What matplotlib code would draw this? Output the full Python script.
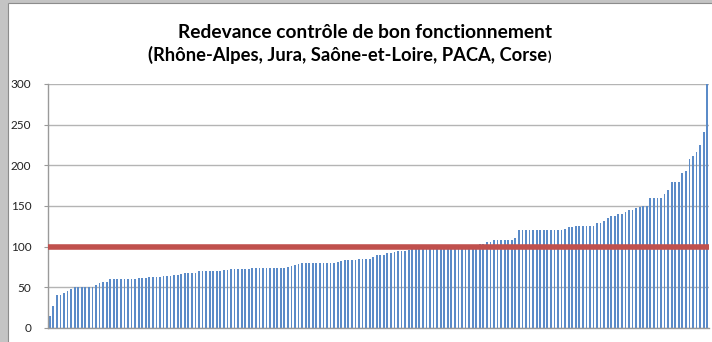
import matplotlib
matplotlib.use("Agg")
import matplotlib.pyplot as plt
from matplotlib.patches import Rectangle
import numpy as np

# Fees per service, sorted ascending (EUR)
fees = [
    15, 27, 40, 40, 43, 45, 48, 50, 50, 50, 50, 50, 50, 53, 55, 56, 56,
    60, 60, 60, 60, 60, 60, 60, 60, 61,
    61, 61, 62, 62, 62, 62, 64, 64, 64, 65, 65, 66, 67, 68, 68, 68,
    70, 70, 70, 70, 70, 70, 70, 71, 71, 72, 72, 72,
    72, 72, 72, 73, 74, 74, 74, 74, 74, 74, 74, 74, 74, 75, 76, 77, 78,
    80, 80, 80, 80, 80, 80, 80, 80, 80, 80,
    81, 82, 83, 83, 83, 84, 85, 85, 85, 85, 87, 90, 90, 90, 92, 92, 93,
    94, 94, 95, 96, 97, 98, 98, 99, 99, 100,
    100, 100, 100, 100, 100, 100, 100, 100, 100, 100, 100, 100, 100,
    103, 103, 105, 106, 108, 108, 108, 108, 108, 108, 110, 120, 120, 120,
    120, 120, 120, 120, 120, 120, 120, 120, 120, 120, 122, 124, 124,
    125, 125, 125, 125, 125, 125, 129, 129, 132, 135, 138, 138, 140, 140,
    142, 145, 145, 147,
    149, 150, 150, 160, 160, 160, 160, 165, 170, 180, 180, 180, 190, 193,
    208, 211, 216, 225, 241, 300,
]
reference_fee = 100
y_ticks = [0, 50, 100, 150, 200, 250, 300]

W, H = 712, 342
fig = plt.figure(figsize=(W / 100, H / 100), dpi=100, facecolor="white")

# Spreadsheet background around the chart frame
fig.patches.append(Rectangle((0, 0), 8 / W, 1, transform=fig.transFigure,
                             facecolor="#c4c4c4", edgecolor="none", zorder=0))
fig.patches.append(Rectangle((0, 1 - 3 / H), 1, 3 / H, transform=fig.transFigure,
                             facecolor="#c4c4c4", edgecolor="none", zorder=0))
fig.patches.append(Rectangle((8 / W, -0.05), 1.1, 1.05 - 3 / H, transform=fig.transFigure,
                             facecolor="none", edgecolor="#8c8c8c", lw=0.8, zorder=1))

ax = fig.add_axes([48 / W, (H - 327.8) / H, (709 - 48) / W, (327.8 - 84) / H])
x = np.arange(len(fees))
ax.bar(x, fees, width=0.5, color="#5b8bc8", edgecolor="none", zorder=2)
ax.axhline(reference_fee, color="#c0504d", lw=4.0, zorder=3)

ax.set_xlim(-0.5, len(fees) - 0.5)
ax.set_ylim(0, 300)
ax.set_yticks(y_ticks)
ax.set_yticklabels([str(t) for t in y_ticks], fontsize=8.5, family="Lato")
ax.set_xticks([])
ax.grid(axis="y", color="#b4b4b4", lw=1.0, zorder=0)
ax.set_axisbelow(True)
for side in ("top", "right"):
    ax.spines[side].set_visible(False)
for side in ("left", "bottom"):
    ax.spines[side].set_color("#9a9a9a")
    ax.spines[side].set_linewidth(1.0)
ax.tick_params(axis="y", length=3, color="#9a9a9a", pad=9, labelcolor="#222222")

# Two-line title; the closing parenthesis is set in a smaller size
fig.text(365 / W, 1 - 32 / H, "Redevance contrôle de bon fonctionnement",
         ha="center", va="center", fontsize=13.8, fontweight="bold", family="Lato")
t2 = fig.text(348 / W, 1 - 55 / H, "(Rhône-Alpes, Jura, Saône-et-Loire, PACA, Corse",
              ha="center", va="center", fontsize=13.2, fontweight="bold", family="Lato")
fig.canvas.draw()
bb = t2.get_window_extent()
fig.text(bb.x1 / W + 0.5 / W, 1 - 57 / H, ")", ha="left", va="center",
         fontsize=9, fontweight="bold", family="Lato")

fig.savefig("out.png", dpi=100, facecolor="white")
